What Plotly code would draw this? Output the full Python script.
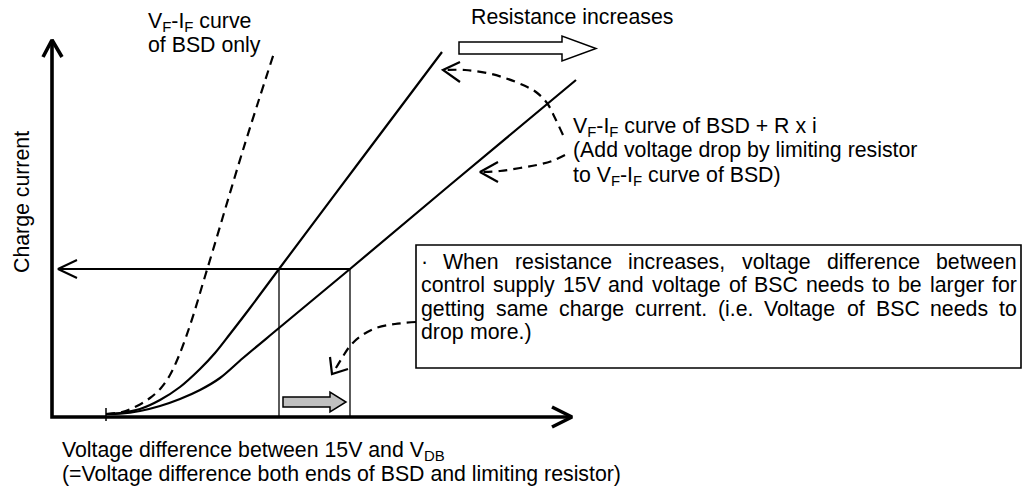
import plotly.graph_objects as go

FONT = "Liberation Sans, Arial, Helvetica, sans-serif"
FS = 21.3
W, H = 1032, 488
PAGE_MARGIN = 8  # default body margin of the html page

# ---------------- diagram geometry (pixel-like units, y grows downward) -------------
axis_x = [52, 52, 572]
axis_y = [40, 417, 417]
yhead_x = [43, 52, 62]
yhead_y = [57, 40, 57]
xhead_x = [552, 572, 552]
xhead_y = [407, 417, 427]
tick_x = [106, 106]
tick_y = [408, 421]

# VF-IF curve of BSD only (dashed)
bsd_x = [106, 122, 137, 150, 161, 170, 178, 186, 194, 203, 213, 243, 274]
bsd_y = [414, 412, 406, 398, 388, 375, 358, 337, 313, 283, 250, 150, 53]

# BSD + R x i (small R)
r1_x = [106, 120, 140, 160, 180, 200, 215, 230, 250, 279, 360, 442]
r1_y = [414, 413, 409, 400, 387, 369, 353, 334, 308, 269, 161, 52]

# BSD + R x i (larger R)
r2_x = [106, 120, 140, 160, 180, 200, 220, 243, 279, 350, 450, 576]
r2_y = [414, 413.7, 411, 406, 399, 390, 378, 358, 328, 269, 185, 80]

# operating current level and the two voltage drops
level_x = [350, 58]
level_y = [269, 269]
lhead_x = [77, 58, 77]
lhead_y = [260, 269, 278]
vline1_x = [279, 279]
vline2_x = [350, 350]
vline_y = [269, 417]

# dashed pointer arrows
pa_x = [563, 555, 547, 536, 523, 505, 487, 465, 445]
pa_y = [135, 118, 103, 92, 85, 78, 73, 70, 70]
pa_head_x = [460, 443, 460]
pa_head_y = [62, 70, 82]

pb_x = [565, 552, 537, 520, 500, 482]
pb_y = [155, 161, 165, 168, 171, 172]
pb_head_x = [498, 480, 498]
pb_head_y = [162, 172, 182]

pc_x = [416, 395, 376, 361, 350, 342, 333]
pc_y = [322, 324, 328, 336, 346, 358, 373]
pc_head_x = [330, 332, 348]
pc_head_y = [357, 374, 369]

# block arrows (polygon outlines)
hollow_x = [459, 562, 562, 596, 562, 562, 459]
hollow_y = [42, 42, 36, 48.5, 61, 54, 54]
gray_x = [283, 330, 330, 346, 330, 330, 283]
gray_y = [397, 397, 392, 402, 412, 407, 407]

# note box
box_x = [416, 1021]
box_y = [245, 368]

# ---------------- text ----------------
labels = [
    (148, 28, "V<sub>F</sub>-I<sub>F</sub> curve", True),
    (148, 52, "of BSD only", False),
    (471, 24, "Resistance increases", False),
    (573, 133, "V<sub>F</sub>-I<sub>F</sub> curve of BSD + R x i", True),
    (573, 157, "(Add voltage drop by limiting resistor", False),
    (573, 182, "to V<sub>F</sub>-I<sub>F</sub> curve of BSD)", True),
    (62, 457, "Voltage difference between 15V and V<sub>DB</sub>", True),
    (62, 481, "(=Voltage difference both ends of BSD and limiting resistor)", False),
]
y_title = "Charge current"
y_title_pos = (22, 202)

box_lines = [
    "· When resistance increases, voltage difference between",
    "control supply 15V and voltage of BSC needs to be larger for",
    "getting same charge current. (i.e. Voltage of BSC needs to",
    "drop more.)",
]
box_justify = [True, True, True, False]
box_text_left, box_text_right = 421, 1017
box_baselines = [269, 292.5, 316, 339.5]

# Arial / Liberation Sans advance widths (1/1000 em)
AW = {' ': 278, '·': 278, '.': 278, ',': 278, '(': 333, ')': 333, '-': 333, '+': 584, '=': 584,
      'A': 667, 'B': 667, 'C': 722, 'D': 722, 'E': 667, 'F': 611, 'G': 778, 'H': 722, 'I': 278,
      'R': 722, 'S': 667, 'V': 667, 'W': 944,
      'a': 556, 'b': 556, 'c': 500, 'd': 556, 'e': 556, 'f': 278, 'g': 556, 'h': 556, 'i': 222,
      'j': 222, 'k': 500, 'l': 222, 'm': 833, 'n': 556, 'o': 556, 'p': 556, 'q': 556, 'r': 333,
      's': 500, 't': 278, 'u': 556, 'v': 500, 'w': 722, 'x': 500, 'y': 500, 'z': 500}
for d in "0123456789":
    AW[d] = 556


def text_width(s):
    return sum(AW.get(ch, 556) for ch in s) * FS / 1000.0


fig = go.Figure()


def line(xs, ys, width=2.2, color="#000000", dash=None, shape="linear"):
    fig.add_trace(go.Scatter(x=xs, y=ys, mode="lines", hoverinfo="skip", showlegend=False,
                             line=dict(color=color, width=width, dash=dash, shape=shape)))


def poly_path(xs, ys):
    p = "M %s,%s " % (xs[0], ys[0])
    for a, b in zip(xs[1:], ys[1:]):
        p += "L %s,%s " % (a, b)
    return p + "Z"


# box
fig.add_shape(type="rect", xref="x", yref="y", x0=box_x[0], x1=box_x[1], y0=box_y[0], y1=box_y[1],
              line=dict(color="#000000", width=1.6), fillcolor="white", layer="below")
# block arrows
fig.add_shape(type="path", xref="x", yref="y", path=poly_path(hollow_x, hollow_y),
              line=dict(color="#000000", width=1.5), fillcolor="white")
fig.add_shape(type="path", xref="x", yref="y", path=poly_path(gray_x, gray_y),
              line=dict(color="#000000", width=1.5), fillcolor="#c0c0c0")

# vertical drop lines
line(vline1_x, vline_y, width=1.6, color="#333333")
line(vline2_x, vline_y, width=1.6, color="#333333")
# current level arrow
line(level_x, level_y, width=2.0)
line(lhead_x, lhead_y, width=2.0)

# curves
line(bsd_x, bsd_y, width=2.2, dash="9px,6px", shape="spline")
line(r1_x, r1_y, width=2.2, shape="spline")
line(r2_x, r2_y, width=2.2, shape="spline")

# pointer arrows
line(pa_x, pa_y, width=2.2, dash="9px,6px", shape="spline")
line(pa_head_x, pa_head_y, width=2.2)
line(pb_x, pb_y, width=2.2, dash="9px,6px", shape="spline")
line(pb_head_x, pb_head_y, width=2.2)
line(pc_x, pc_y, width=2.2, dash="9px,6px", shape="spline")
line(pc_head_x, pc_head_y, width=2.2)

# axes
line(axis_x, axis_y, width=3.6)
line(yhead_x, yhead_y, width=3.6)
line(xhead_x, xhead_y, width=3.6)
line(tick_x, tick_y, width=1.5)

CENTER_OFF = 0.35 * FS


def add_text(x, baseline, s, sub=False, anchor="left"):
    fig.add_annotation(x=x, y=baseline - CENTER_OFF + (1.5 if sub else 0), xref="x", yref="y",
                       text=s, showarrow=False, xanchor=anchor, yanchor="middle",
                       font=dict(family=FONT, size=FS, color="#000000"),
                       borderpad=0, borderwidth=0)


for (x, b, s, sub) in labels:
    add_text(x, b, s, sub)

fig.add_annotation(x=y_title_pos[0], y=y_title_pos[1], xref="x", yref="y", text=y_title,
                   showarrow=False, textangle=-90, xanchor="center", yanchor="middle",
                   font=dict(family=FONT, size=FS, color="#000000"), borderpad=0, borderwidth=0)

# justified box text, word by word
for s, just, b in zip(box_lines, box_justify, box_baselines):
    words = s.split(" ")
    if just and len(words) > 1:
        total = sum(text_width(w) for w in words)
        gap = (box_text_right - box_text_left - total) / (len(words) - 1)
    else:
        gap = text_width(" ")
    x = box_text_left
    for w in words:
        add_text(x, b, w)
        x += text_width(w) + gap

# the page adds an 8px body margin, so the figure is shrunk by it and the
# axis ranges are shifted so that page pixels line up with diagram units
fig.update_layout(
    width=W - PAGE_MARGIN, height=H - PAGE_MARGIN, autosize=False,
    margin=dict(l=0, r=0, t=0, b=0, pad=0),
    paper_bgcolor="white", plot_bgcolor="white",
    xaxis=dict(range=[PAGE_MARGIN, W], visible=False, fixedrange=True),
    yaxis=dict(range=[H, PAGE_MARGIN], visible=False, fixedrange=True),
    hovermode=False, showlegend=False,
)

fig.write_html("out.html")
